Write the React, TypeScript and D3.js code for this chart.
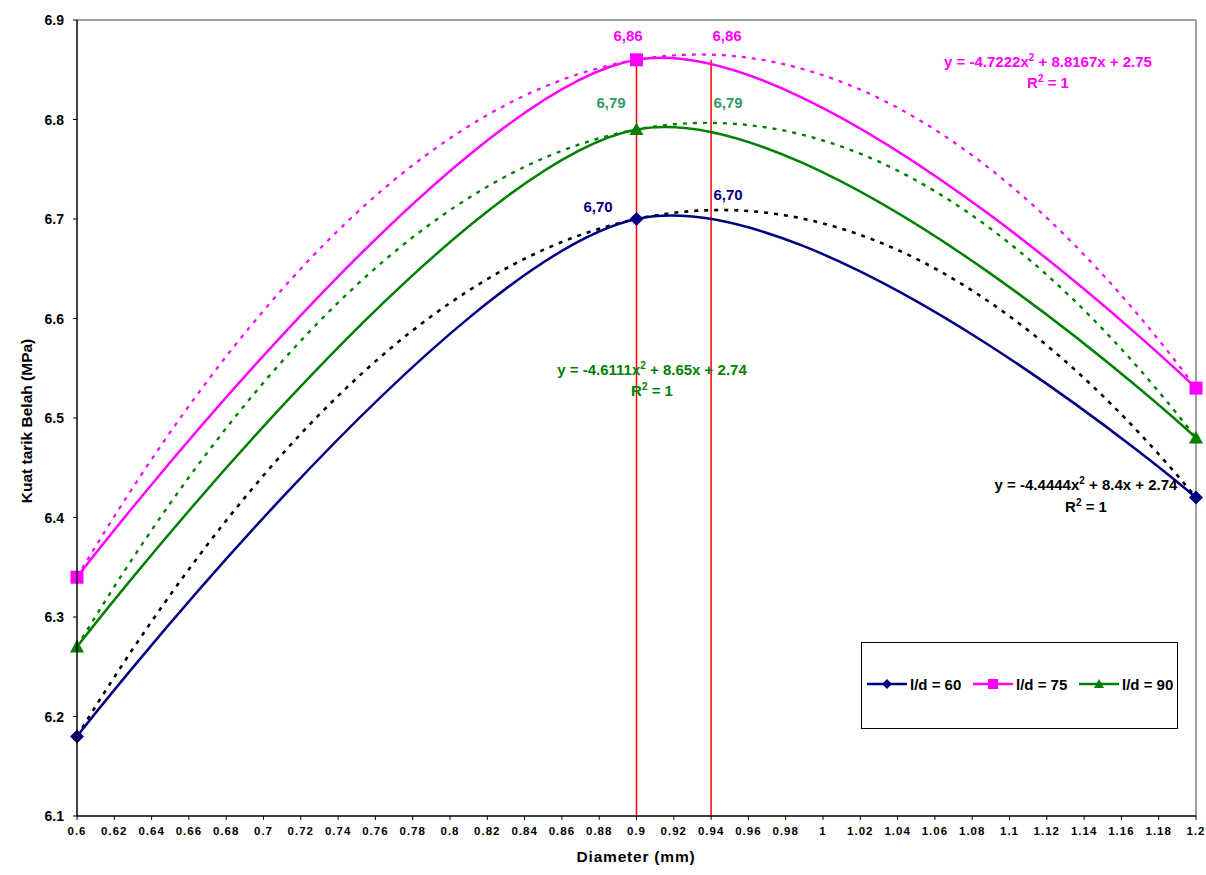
import React from "react";
import * as d3 from "d3";

// Diameter values where the specimens were tested (mm)
const diameters = [0.6, 0.9, 1.2];
// Split tensile strength (MPa) per aspect ratio
const series60 = [6.18, 6.7, 6.42];
const series75 = [6.34, 6.86, 6.53];
const series90 = [6.27, 6.79, 6.48];
const seriesNames = ["l/d = 60", "l/d = 75", "l/d = 90"];
// Polynomial trendline coefficients [a, b, c] for y = a x^2 + b x + c
const trend60 = [-4.4444, 8.4, 2.74];
const trend75 = [-4.7222, 8.8167, 2.75];
const trend90 = [-4.6111, 8.65, 2.74];
// Reference lines marking the measured and fitted optimum diameters
const markerDiameters = [0.9, 0.94];
const markerLevel = 6.86;
// Peak labels
const peakLabels60 = ["6,70", "6,70"];
const peakLabels75 = ["6,86", "6,86"];
const peakLabels90 = ["6,79", "6,79"];
// Axis ticks
const xTicks = d3.range(0, 31).map((i) => +(0.6 + i * 0.02).toFixed(2));
const yTicks = [6.1, 6.2, 6.3, 6.4, 6.5, 6.6, 6.7, 6.8, 6.9];

const W = 1206;
const H = 875;
const plot = { left: 77, right: 1196, top: 20, bottom: 816 };
const FONT = "'Liberation Sans', Arial, sans-serif";

const NAVY = "#000080";
const MAGENTA = "#FF00FF";
const GREEN = "#008000";
const LABEL_GREEN = "#339966";

export default function App() {
  const x = d3.scaleLinear().domain([0.6, 1.2]).range([plot.left, plot.right]);
  const y = d3.scaleLinear().domain([6.1, 6.9]).range([plot.bottom, plot.top]);

  const smooth = d3
    .line<[number, number]>()
    .x((d) => x(d[0]))
    .y((d) => y(d[1]))
    .curve(d3.curveCardinal.tension(0));

  const straight = d3
    .line<[number, number]>()
    .x((d) => x(d[0]))
    .y((d) => y(d[1]));

  const trendPts = (c: number[]) =>
    d3.range(0.6, 1.2001, 0.005).map((v) => [v, c[0] * v * v + c[1] * v + c[2]] as [number, number]);

  const pts = (vals: number[]) => diameters.map((d, i) => [d, vals[i]] as [number, number]);

  const diamond = (cx: number, cy: number, r: number) =>
    `M${cx},${cy - r}L${cx + r},${cy}L${cx},${cy + r}L${cx - r},${cy}Z`;
  const square = (cx: number, cy: number, r: number) =>
    `M${cx - r},${cy - r}H${cx + r}V${cy + r}H${cx - r}Z`;
  const triangle = (cx: number, cy: number, r: number) =>
    `M${cx},${cy - r}L${cx + r},${cy + r * 0.8}L${cx - r},${cy + r * 0.8}Z`;

  const series = [
    { vals: series60, color: NAVY, shape: diamond, r: 7 },
    { vals: series75, color: MAGENTA, shape: square, r: 6.5 },
    { vals: series90, color: GREEN, shape: triangle, r: 7 },
  ];

  const trends = [
    { c: trend60, color: "#000000", dash: "4,6", width: 2.6 },
    { c: trend75, color: MAGENTA, dash: "4,6", width: 2.2 },
    { c: trend90, color: GREEN, dash: "4,6", width: 2.4 },
  ];

  const bold = { fontFamily: FONT, fontWeight: 700 } as const;

  const sup = (base: string, rest: string) => (
    <>
      {base}
      <tspan dy={-6} fontSize={10}>2</tspan>
      <tspan dy={6}>{rest}</tspan>
    </>
  );

  return (
    <svg
      width={W}
      height={H}
      style={{ position: "absolute", left: 0, top: 0, background: "#fff" }}
    >
      {/* plot frame */}
      <line x1={plot.left} x2={plot.right} y1={plot.top} y2={plot.top} stroke="#808080" strokeWidth={1.5} />
      <line x1={plot.right} x2={plot.right} y1={plot.top} y2={plot.bottom} stroke="#808080" strokeWidth={1.5} />

      {/* reference lines */}
      {markerDiameters.map((d) => (
        <line
          key={d}
          x1={x(d)}
          x2={x(d)}
          y1={y(6.1)}
          y2={y(markerLevel)}
          stroke="#FF0000"
          strokeWidth={1.5}
        />
      ))}

      {/* trendlines */}
      {trends.map((t, i) => (
        <path
          key={i}
          d={straight(trendPts(t.c)) || ""}
          fill="none"
          stroke={t.color}
          strokeWidth={t.width}
          strokeDasharray={t.dash}
        />
      ))}

      {/* data series */}
      {series.map((s, i) => (
        <g key={i}>
          <path d={smooth(pts(s.vals)) || ""} fill="none" stroke={s.color} strokeWidth={2.5} />
          {pts(s.vals).map((p, j) => (
            <path key={j} d={s.shape(x(p[0]), y(p[1]), s.r)} fill={s.color} />
          ))}
        </g>
      ))}

      {/* axes */}
      <line x1={plot.left} x2={plot.left} y1={plot.top} y2={plot.bottom} stroke="#000" strokeWidth={1.5} />
      <line x1={plot.left} x2={plot.right} y1={plot.bottom} y2={plot.bottom} stroke="#000" strokeWidth={1.5} />
      {yTicks.map((t) => (
        <g key={t}>
          <line x1={plot.left - 4} x2={plot.left} y1={y(t)} y2={y(t)} stroke="#000" />
          <text x={plot.left - 13} y={y(t) + 5} textAnchor="end" fontSize={14} style={bold}>
            {t.toFixed(1)}
          </text>
        </g>
      ))}
      {xTicks.map((t) => (
        <g key={t}>
          <line x1={x(t)} x2={x(t)} y1={plot.bottom} y2={plot.bottom + 4} stroke="#000" />
          <text
            x={x(t)}
            y={plot.bottom + 19}
            textAnchor="middle"
            fontSize={11.5}
            letterSpacing={1}
            style={bold}
          >
            {String(t)}
          </text>
        </g>
      ))}
      <text
        x={636}
        y={862}
        textAnchor="middle"
        fontSize={15.5}
        letterSpacing={0.8}
        style={bold}
      >
        Diameter (mm)
      </text>
      <text
        transform={`translate(32,${(plot.top + plot.bottom) / 2 + 3}) rotate(-90)`}
        textAnchor="middle"
        fontSize={15.5}
        style={bold}
      >
        Kuat tarik Belah (MPa)
      </text>

      {/* peak labels */}
      <g fontSize={15} style={bold} textAnchor="middle">
        <text x={x(markerDiameters[0]) - 8.5} y={41} fill={MAGENTA}>{peakLabels75[0]}</text>
        <text x={x(markerDiameters[1]) + 16} y={41} fill={MAGENTA}>{peakLabels75[1]}</text>
        <text x={x(markerDiameters[0]) - 25.5} y={108} fill={LABEL_GREEN}>{peakLabels90[0]}</text>
        <text x={x(markerDiameters[1]) + 17} y={108} fill={LABEL_GREEN}>{peakLabels90[1]}</text>
        <text x={x(markerDiameters[0]) - 38.5} y={212} fill={NAVY}>{peakLabels60[0]}</text>
        <text x={x(markerDiameters[1]) + 17} y={200} fill={NAVY}>{peakLabels60[1]}</text>
      </g>

      {/* trendline equations */}
      <g fontSize={15} style={bold} textAnchor="middle">
        <text x={1048} y={67} fill={MAGENTA}>{sup("y = -4.7222x", " + 8.8167x + 2.75")}</text>
        <text x={1048} y={88} fill={MAGENTA}>{sup("R", " = 1")}</text>
        <text x={652} y={375} fill={GREEN}>{sup("y = -4.6111x", " + 8.65x + 2.74")}</text>
        <text x={652} y={396} fill={GREEN}>{sup("R", " = 1")}</text>
        <text x={1086} y={490} fill="#000">{sup("y = -4.4444x", " + 8.4x + 2.74")}</text>
        <text x={1086} y={512} fill="#000">{sup("R", " = 1")}</text>
      </g>

      {/* legend */}
      <rect x={861.5} y={642.5} width={316} height={86} fill="#fff" stroke="#000" strokeWidth={1} />
      {series.map((s, i) => {
        const lx = [867, 973, 1079][i];
        const ly = 684;
        return (
          <g key={i}>
            <line x1={lx} x2={lx + 40} y1={ly} y2={ly} stroke={s.color} strokeWidth={2.5} />
            <path d={s.shape(lx + 20, ly, 5)} fill={s.color} />
            <text x={lx + 43} y={ly + 6} fontSize={15} style={bold}>
              {seriesNames[i]}
            </text>
          </g>
        );
      })}
    </svg>
  );
}
